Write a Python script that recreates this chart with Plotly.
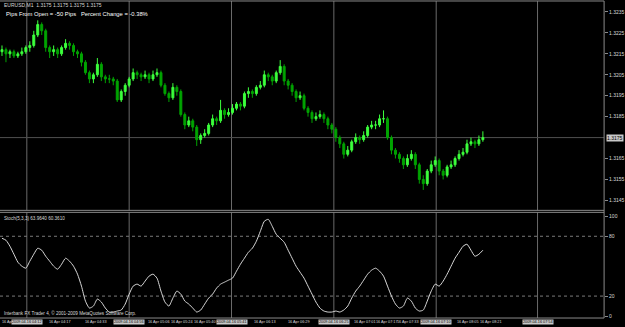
import plotly.graph_objects as go

W, H = 625, 327
PX_RIGHT = 608  # right edge of plotting area (px)

# ---------------- data ----------------
symbol_title = "EURUSD,M1  1.3175 1.3175 1.3175 1.3175"
info_text = "Pips From Open = -50 Pips   Percent Change = -0.38%"
stoch_title = "Stoch(5,3,3) 63.9640 60.3610"
copyright_text = "Interbank FX Trader 4, \u00a9 2001-2009 MetaQuotes Software Corp."

first_open = 1.3216
closes = [1.3217, 1.3215, 1.3216, 1.3214, 1.3215, 1.3216, 1.3218, 1.3219, 1.3224, 1.3229,
          1.3226, 1.3218, 1.3216, 1.3217, 1.3215, 1.3218, 1.3220, 1.3219, 1.3216, 1.3215,
          1.3211, 1.3206, 1.3203, 1.3205, 1.3210, 1.3204, 1.3203, 1.3203, 1.3202, 1.3193,
          1.3197, 1.3200, 1.3203, 1.3206, 1.3205, 1.3204, 1.3205, 1.3203, 1.3205, 1.3206,
          1.3200, 1.3196, 1.3194, 1.3199, 1.3197, 1.3186, 1.3181, 1.3183, 1.3180, 1.3174,
          1.3176, 1.3177, 1.3181, 1.3184, 1.3183, 1.3188, 1.3186, 1.3187, 1.3189, 1.3191,
          1.3190, 1.3196, 1.3197, 1.3196, 1.3199, 1.3200, 1.3205, 1.3204, 1.3202, 1.3206,
          1.3209, 1.3202, 1.3200, 1.3197, 1.3194, 1.3195, 1.3189, 1.3187, 1.3184, 1.3185,
          1.3186, 1.3184, 1.3181, 1.3179, 1.3175, 1.3172, 1.3167, 1.3169, 1.3173, 1.3175,
          1.3174, 1.3176, 1.3180, 1.3181, 1.3181, 1.3184, 1.3184, 1.3175, 1.3169, 1.3167,
          1.3165, 1.3162, 1.3165, 1.3167, 1.3162, 1.3155, 1.3153, 1.3159, 1.3162, 1.3164,
          1.3159, 1.3157, 1.3161, 1.3162, 1.3165, 1.3167, 1.3168, 1.3172, 1.3173, 1.3172,
          1.3174, 1.3175]
highs = [1.3219, 1.3218, 1.3217, 1.3217, 1.3216, 1.3218, 1.3219, 1.3221, 1.3226, 1.3231,
         1.3230, 1.3227, 1.3219, 1.3219, 1.3218, 1.3219, 1.3222, 1.3221, 1.3220, 1.3217,
         1.3216, 1.3212, 1.3207, 1.3206, 1.3213, 1.3211, 1.3205, 1.3205, 1.3204, 1.3203,
         1.3198, 1.3201, 1.3204, 1.3208, 1.3207, 1.3206, 1.3207, 1.3206, 1.3207, 1.3208,
         1.3207, 1.3201, 1.3197, 1.3201, 1.3200, 1.3198, 1.3187, 1.3185, 1.3184, 1.3181,
         1.3177, 1.3179, 1.3182, 1.3186, 1.3185, 1.3193, 1.3189, 1.3189, 1.3191, 1.3192,
         1.3192, 1.3197, 1.3199, 1.3198, 1.3200, 1.3202, 1.3207, 1.3206, 1.3205, 1.3207,
         1.3212, 1.3210, 1.3203, 1.3201, 1.3198, 1.3197, 1.3196, 1.3190, 1.3188, 1.3187,
         1.3188, 1.3187, 1.3185, 1.3182, 1.3180, 1.3176, 1.3173, 1.3171, 1.3174, 1.3177,
         1.3176, 1.3178, 1.3181, 1.3183, 1.3183, 1.3186, 1.3188, 1.3185, 1.3176, 1.3170,
         1.3168, 1.3166, 1.3167, 1.3169, 1.3168, 1.3163, 1.3157, 1.3160, 1.3164, 1.3166,
         1.3165, 1.3160, 1.3162, 1.3164, 1.3166, 1.3169, 1.3170, 1.3174, 1.3175, 1.3174,
         1.3176, 1.3178]
lows = [1.3214, 1.3211, 1.3213, 1.3213, 1.3213, 1.3214, 1.3215, 1.3216, 1.3218, 1.3223,
        1.3224, 1.3216, 1.3213, 1.3214, 1.3213, 1.3214, 1.3217, 1.3217, 1.3214, 1.3213,
        1.3209, 1.3205, 1.3201, 1.3201, 1.3204, 1.3202, 1.3201, 1.3201, 1.3200, 1.3192,
        1.3192, 1.3195, 1.3199, 1.3202, 1.3203, 1.3202, 1.3203, 1.3201, 1.3202, 1.3204,
        1.3199, 1.3195, 1.3192, 1.3193, 1.3195, 1.3185, 1.3179, 1.3180, 1.3178, 1.3171,
        1.3172, 1.3175, 1.3176, 1.3180, 1.3181, 1.3182, 1.3184, 1.3185, 1.3186, 1.3188,
        1.3188, 1.3189, 1.3194, 1.3194, 1.3195, 1.3198, 1.3199, 1.3202, 1.3200, 1.3201,
        1.3205, 1.3200, 1.3198, 1.3195, 1.3192, 1.3193, 1.3188, 1.3185, 1.3182, 1.3183,
        1.3184, 1.3182, 1.3179, 1.3177, 1.3173, 1.3170, 1.3165, 1.3166, 1.3168, 1.3172,
        1.3172, 1.3173, 1.3175, 1.3179, 1.3179, 1.3180, 1.3182, 1.3174, 1.3167, 1.3165,
        1.3163, 1.3160, 1.3161, 1.3164, 1.3160, 1.3153, 1.3150, 1.3152, 1.3158, 1.3161,
        1.3157, 1.3155, 1.3156, 1.3160, 1.3161, 1.3164, 1.3166, 1.3167, 1.3171, 1.3170,
        1.3171, 1.3173]
stoch_main = [78, 76, 70, 62, 54, 50, 48, 55, 62, 68,
              66, 60, 55, 50, 47, 52, 58, 55, 50, 42,
              30, 15, 8, 10, 17, 14, 8, 4, 4, 5,
              6, 12, 22, 30, 32, 30, 35, 40, 42, 38,
              25, 14, 10, 18, 25, 22, 15, 12, 8, 4,
              6, 12, 18, 22, 28, 32, 34, 36, 38, 45,
              52, 58, 64, 68, 75, 85, 95, 97, 90, 82,
              78, 74, 66, 58, 50, 44, 38, 30, 22, 14,
              8, 5, 4, 4, 5, 4, 6, 10, 18, 25,
              30, 36, 42, 46, 48, 45, 40, 30, 20, 12,
              8, 10, 18, 15, 8, 5, 6, 15, 25, 32,
              30, 35, 42, 50, 58, 64, 70, 72, 66, 60,
              62, 66]

bid_price = 1.3175
price_ticks = [1.3145, 1.3155, 1.3165, 1.3185, 1.3195, 1.3205, 1.3215, 1.3225, 1.3235]
stoch_ticks = [0, 20, 80, 100]
stoch_levels = [20, 80]

time_labels = ["16 Apr 04:01", "16 Apr 04:17", "16 Apr 04:33", "16 Apr 05:06", "16 Apr 05:24",
               "16 Apr 05:40", "16 Apr 06:13", "16 Apr 06:29", "16 Apr 07:01", "16 Apr 07:17",
               "16 Apr 07:33", "16 Apr 08:05", "16 Apr 08:21"]
time_label_px = [0, 47, 84, 147, 170, 193, 254, 288, 354, 376, 398, 458, 481]
vline_labels = ["2009.04.16 04:12", "2009.04.16 04:56", "2009.04.16 05:41",
                "2009.04.16 06:25", "2009.04.16 07:10", "2009.04.16 07:54"]
vline_px = [27, 130, 233, 336, 439, 541]

# ---------------- figure ----------------
opens = [first_open] + closes[:-1]
idx = list(range(len(closes)))

FONT = "Liberation Sans Narrow, Liberation Sans, Arial, sans-serif"
GRID = "#6a6a6a"
AX = "#8a8a8a"
TXT = "#d8d8d8"

def py(y_px):
    return (H - y_px) / H

def px(x_px):
    return x_px / W

fig = go.Figure()
fig.add_trace(go.Candlestick(
    x=idx, open=opens, high=highs, low=lows, close=closes,
    increasing=dict(line=dict(color="#3cff3c", width=1), fillcolor="#3cff3c"),
    decreasing=dict(line=dict(color="#00a400", width=1), fillcolor="#00a400"),
    whiskerwidth=0, showlegend=False, hoverinfo="skip", xaxis="x", yaxis="y"))
fig.add_trace(go.Scatter(
    x=idx, y=stoch_main, mode="lines", line=dict(color="#d8d8d8", width=1, shape="spline", smoothing=0.6),
    showlegend=False, hoverinfo="skip", xaxis="x", yaxis="y2"))

shapes = []
for vx in vline_px:
    for (y0, y1) in [(1, 211), (213, 319)]:
        shapes.append(dict(type="line", xref="paper", yref="paper", x0=px(vx), x1=px(vx),
                           y0=py(y1), y1=py(y0), line=dict(color=GRID, width=1), layer="below"))
shapes.append(dict(type="line", xref="paper", yref="y", x0=0, x1=px(PX_RIGHT), y0=bid_price, y1=bid_price,
                   line=dict(color="#505050", width=1), layer="below"))
for lv in stoch_levels:
    shapes.append(dict(type="line", xref="paper", yref="y2", x0=0, x1=px(PX_RIGHT), y0=lv, y1=lv,
                       line=dict(color="#7a7a7a", width=1, dash="dot"), layer="below"))
for yb in [1, 211, 213, 319]:
    shapes.append(dict(type="line", xref="paper", yref="paper", x0=0, x1=px(PX_RIGHT), y0=py(yb), y1=py(yb),
                       line=dict(color=AX, width=1)))
shapes.append(dict(type="line", xref="paper", yref="paper", x0=px(PX_RIGHT), x1=px(PX_RIGHT),
                   y0=py(319), y1=py(1), line=dict(color=AX, width=1)))

annotations = [
    dict(text=symbol_title, x=px(2), y=py(5), xref="paper", yref="paper", xanchor="left", yanchor="middle",
         showarrow=False, font=dict(family=FONT, size=5, color=TXT)),
    dict(text=info_text, x=px(4), y=py(14), xref="paper", yref="paper", xanchor="left", yanchor="middle",
         showarrow=False, font=dict(family="Liberation Sans, Arial, sans-serif", size=5.8, color="#ffffff")),
    dict(text=stoch_title, x=px(2), y=py(219), xref="paper", yref="paper", xanchor="left", yanchor="middle",
         showarrow=False, font=dict(family=FONT, size=4.6, color=TXT)),
    dict(text=copyright_text, x=px(2), y=py(314), xref="paper", yref="paper", xanchor="left", yanchor="middle",
         showarrow=False, font=dict(family=FONT, size=4.6, color=TXT)),
    dict(text="%.4f" % bid_price, x=px(610), y=bid_price, xref="paper", yref="y", xanchor="left",
         yanchor="middle", showarrow=False, bgcolor="#c8c8c8", borderpad=0,
         font=dict(family=FONT, size=5, color="#000000")),
]
for t, tx in zip(time_labels, time_label_px):
    annotations.append(dict(text=t, x=px(tx), y=py(322.5), xref="paper", yref="paper", xanchor="left",
                            yanchor="middle", showarrow=False, font=dict(family=FONT, size=3.8, color=TXT)))
for t, vx in zip(vline_labels, vline_px):
    annotations.append(dict(text=t, x=px(vx), y=py(322.5), xref="paper", yref="paper", xanchor="center",
                            yanchor="middle", showarrow=False, bgcolor="#c8c8c8", borderpad=0,
                            font=dict(family=FONT, size=3.8, color="#000000")))

fig.update_layout(
    width=W, height=H, margin=dict(l=0, r=0, t=0, b=0),
    paper_bgcolor="#000000", plot_bgcolor="#000000",
    xaxis=dict(domain=[0, px(PX_RIGHT)], range=[-0.5, 151.5], showgrid=False, zeroline=False,
               showticklabels=False, ticks="", rangeslider=dict(visible=False), anchor="y2", fixedrange=True),
    yaxis=dict(domain=[py(211), py(1)], range=[1.314024, 1.324024], side="right", anchor="x",
               showgrid=False, zeroline=False, tickvals=price_ticks, ticktext=["%.4f" % v for v in price_ticks],
               ticks="outside", ticklen=3, tickcolor=AX, tickfont=dict(family=FONT, size=5, color=TXT)),
    yaxis2=dict(domain=[py(319), py(213)], range=[-2, 104], side="right", anchor="x",
                showgrid=False, zeroline=False, tickvals=stoch_ticks, ticktext=[str(v) for v in stoch_ticks],
                ticks="outside", ticklen=3, tickcolor=AX, tickfont=dict(family=FONT, size=5, color=TXT)),
    shapes=shapes, annotations=annotations,
)

fig.write_html("out.html")
